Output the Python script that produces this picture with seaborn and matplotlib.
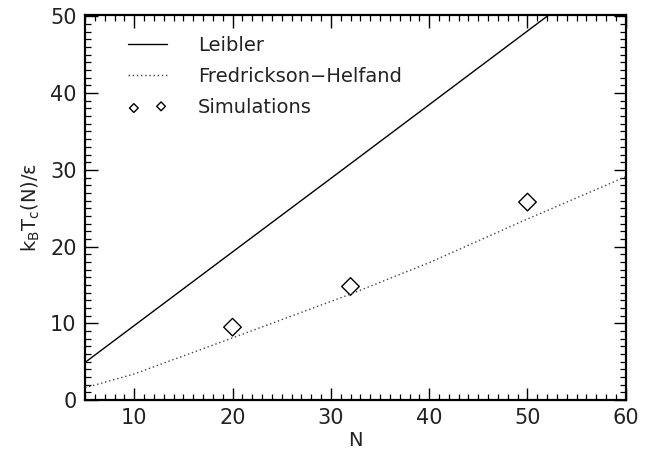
import matplotlib
matplotlib.use("Agg")
import matplotlib.pyplot as plt
from matplotlib.ticker import MultipleLocator
import pandas as pd
import seaborn as sns

# Leibler mean-field critical temperature (straight line in N)
leibler_N = [5, 20, 32, 50, 60]
leibler_T = [4.9, 19.3, 30.8, 48.1, 57.7]

# Fredrickson-Helfand fluctuation-corrected prediction
fh_N = [5, 10, 20, 32, 40, 50, 60]
fh_T = [1.6, 3.4, 8.1, 13.8, 17.9, 23.6, 29.1]

# Simulation results
sim_N = [20, 32, 50]
sim_T = [9.5, 14.8, 25.8]

sns.set_theme(style="white")
plt.rcParams["font.family"] = ["DejaVu Sans"]

fig = plt.figure(figsize=(6.5, 4.5), dpi=100)
ax = fig.add_axes([0.1308, 0.111, 0.832, 0.856])

leibler = pd.DataFrame({"N": leibler_N, "T": leibler_T})
fh = pd.DataFrame({"N": fh_N, "T": fh_T})
sim = pd.DataFrame({"N": sim_N, "T": sim_T})

sns.lineplot(data=leibler, x="N", y="T", ax=ax, color="black", lw=1.0,
             label="Leibler")
sns.lineplot(data=fh, x="N", y="T", ax=ax, color="#444444", lw=1.0,
             linestyle=(0, (1, 2)), label="Fredrickson\u2212Helfand")
sns.scatterplot(data=sim, x="N", y="T", ax=ax, marker="D", s=80,
                facecolor="none", edgecolor="black", linewidth=1.0,
                label="Simulations")

ax.set_xlim(5, 60)
ax.set_ylim(0, 50.2)
ax.xaxis.set_major_locator(MultipleLocator(10))
ax.xaxis.set_minor_locator(MultipleLocator(1))
ax.yaxis.set_major_locator(MultipleLocator(10))
ax.yaxis.set_minor_locator(MultipleLocator(1))
ax.tick_params(which="both", direction="in", top=True, right=True,
               bottom=True, left=True, color="black", labelsize=15,
               labelcolor="#222222")
ax.tick_params(which="major", length=9, width=1.0)
ax.tick_params(which="minor", length=4.5, width=0.9)
ax.tick_params(axis="x", pad=6)
ax.tick_params(axis="y", pad=6)
for s in ax.spines.values():
    s.set_color("black")
    s.set_linewidth(1.6)

ax.set_xlabel("N", fontsize=14, labelpad=2, color="#222222")
ax.set_ylabel("k$_\\mathregular{B}$T$_\\mathregular{c}$(N)/\u03b5", fontsize=14,
              labelpad=6, color="#222222")

leg = ax.legend(loc="upper left", bbox_to_anchor=(0.0795, 0.945),
                frameon=False, fontsize=14, borderpad=0, borderaxespad=0,
                handlelength=2.0, handletextpad=1.6, labelspacing=0.62,
                scatterpoints=2, markerscale=0.5)
for t in leg.get_texts():
    t.set_color("#222222")
fig.savefig("out.png", dpi=100)
